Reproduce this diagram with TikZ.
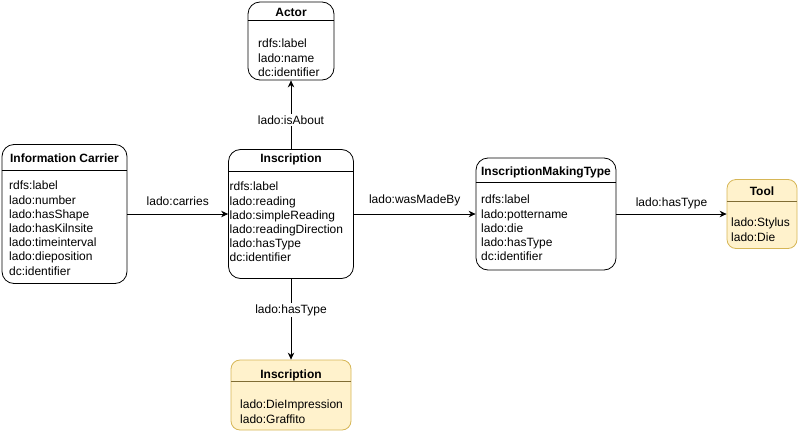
\documentclass[tikz,border=0pt]{standalone}
\usepackage{fontspec}
\setmainfont{Liberation Sans}
\usetikzlibrary{arrows.meta}
\definecolor{yellowfill}{HTML}{FFF2CC}
\definecolor{yellowline}{HTML}{D6B656}
\begin{document}
\begin{tikzpicture}[x=1pt,y=-1pt, font=\fontsize{12}{14.2}\selectfont,
  cls/.style={draw=black, line width=0.8pt, rounded corners=12pt, inner sep=0, fill=white},
  yel/.style={cls, fill=yellowfill, draw=yellowline, rounded corners=9pt},
  hline/.style={line width=0.8pt, draw=black},
  yhline/.style={line width=0.8pt, draw=yellowline!60!black},
  ttl/.style={font=\fontsize{12}{14}\selectfont\bfseries, inner sep=0},
  body/.style={align=left, anchor=north west, inner sep=0},
  arr/.style={-{Stealth[length=7pt,width=6.5pt]}, line width=0.8pt},
  lbl/.style={fill=white, inner sep=1.5pt}]
\useasboundingbox (0,0) rectangle (799,431);

% Information Carrier
\node[cls, minimum width=125pt, minimum height=139pt] (car) at (64.5,214) {};
\draw[hline] ([yshift=-26pt]car.north west) -- ([yshift=-26pt]car.north east);
\node[ttl] (cart) at (64.5,158) {Information Carrier};
\node[body] (carb) at (9,181) {rdfs:label\\lado:number\\lado:hasShape\\lado:hasKilnsite\\lado:timeinterval\\lado:dieposition\\dc:identifier};

% Inscription
\node[cls, minimum width=125pt, minimum height=129pt] (ins) at (291,214) {};
\draw[hline] ([yshift=-22pt]ins.north west) -- ([yshift=-22pt]ins.north east);
\node[ttl] (inst) at (291,159) {Inscription};
\node[body] (insb) at (229.5,182) {rdfs:label\\lado:reading\\lado:simpleReading\\lado:readingDirection\\lado:hasType\\dc:identifier};

% Actor
\node[cls, minimum width=86pt, minimum height=78pt] (act) at (291,41) {};
\draw[hline] ([yshift=-19pt]act.north west) -- ([yshift=-19pt]act.north east);
\node[ttl] (actt) at (291,12) {Actor};
\node[body] (actb) at (258,39) {rdfs:label\\lado:name\\dc:identifier};

% InscriptionMakingType
\node[cls, minimum width=140pt, minimum height=112pt] (imt) at (546,214) {};
\draw[hline] ([yshift=-25pt]imt.north west) -- ([yshift=-25pt]imt.north east);
\node[ttl] (imtt) at (546,172) {InscriptionMakingType};
\node[body] (imtb) at (481,195) {rdfs:label\\lado:pottername\\lado:die\\lado:hasType\\dc:identifier};

% Tool
\node[yel, minimum width=70pt, minimum height=69pt] (tool) at (762,214) {};
\draw[yhline] ([yshift=-22pt]tool.north west) -- ([yshift=-22pt]tool.north east);
\node[ttl] (toolt) at (762,191.5) {Tool};
\node[body] (toolb) at (731,218) {lado:Stylus\\lado:Die};

% Inscription type
\node[yel, minimum width=120pt, minimum height=70pt] (typ) at (291,395) {};
\draw[yhline] ([yshift=-22pt]typ.north west) -- ([yshift=-22pt]typ.north east);
\node[ttl] (typt) at (291,375) {Inscription};
\node[body] (typb) at (240,400) {lado:DieImpression\\lado:Graffito};

% connectors
\draw[arr] (car.east) -- node[lbl, above=6pt, fill=none] {lado:carries} (ins.west);
\draw[arr] (ins.east) -- node[lbl, above=6pt, fill=none] {lado:wasMadeBy} (imt.west);
\draw[arr] (imt.east) -- node[lbl, above=3pt, fill=none] {lado:hasType} (tool.west);
\draw[arr] (ins.north) -- node[lbl, pos=0.42] {lado:isAbout} (act.south);
\draw[arr] (ins.south) -- node[lbl, pos=0.39] {lado:hasType} (typ.north);
\end{tikzpicture}
\end{document}
